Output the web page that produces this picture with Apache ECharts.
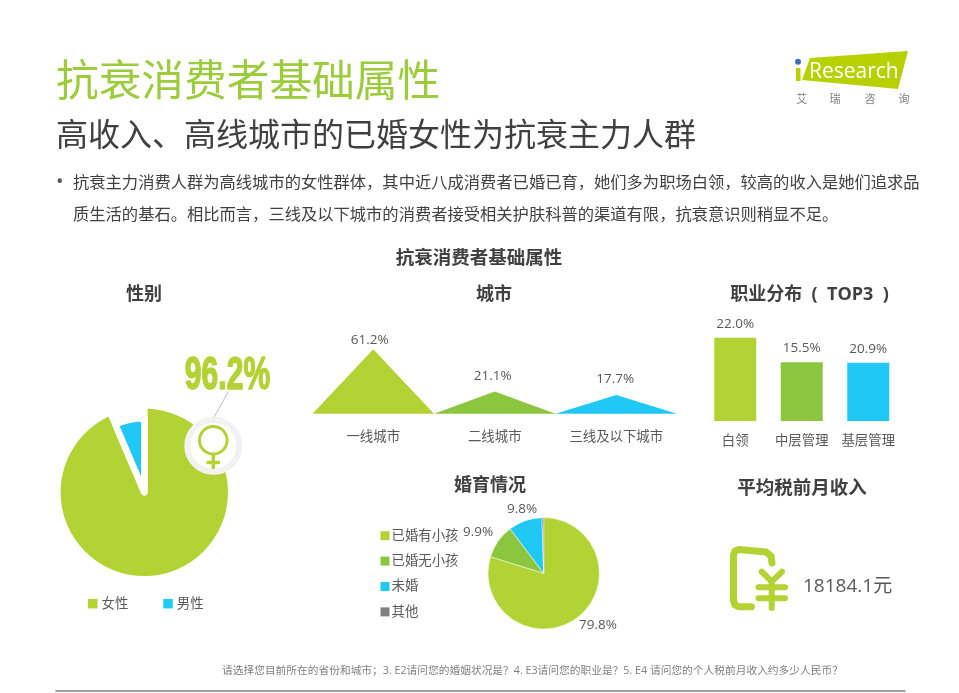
<!DOCTYPE html>
<html>
<head>
<meta charset="utf-8">
<title>抗衰消费者基础属性</title>
<script src="https://cdn.jsdelivr.net/npm/echarts@6/dist/echarts.min.js"></script>
<style>
html,body{margin:0;padding:0;background:#fff;}
#main{width:959px;height:693px;}
</style>
</head>
<body>
<div id="main"></div>
<script type="text/javascript">
var FONT = '"Open Sans","Noto Sans CJK SC",sans-serif';
var LIME = '#b3d234', GREEN = '#8cc63f', SKY = '#1fc8f5', GRAY = '#808080', TEXT = '#595959', DARK = '#404040';

var genderNames = ['女性', '男性'];
var genderDrawn = [93.6, 6.4];
var genderLabel = '96.2%';

var cityNames = ['一线城市', '二线城市', '三线及以下城市'];
var cityValues = [61.2, 21.1, 17.7];
var cityLabelNudge = [[-3.5, 1], [-2, -6], [-1, -6]];

// 职业: third bar is drawn at about the height of the second one in the reference, labelled 20.9%
var jobNames = ['白领', '中层管理', '基层管理'];
var jobDrawn = [22.0, 15.5, 15.4];
var jobLabels = ['22.0%', '15.5%', '20.9%'];

var marriageNames = ['已婚有小孩', '已婚无小孩', '未婚', '其他'];
var marriageValues = [79.8, 9.9, 9.8, 0.5];
var marriageLabelPos = [[598, 625], [478, 532], [522, 509], null];

var income = '18184.1元';

var bodyLines = [
    '抗衰主力消费人群为高线城市的女性群体，其中近八成消费者已婚已育，她们多为职场白领，较高的收入是她们追求品',
    '质生活的基石。相比而言，三线及以下城市的消费者接受相关护肤科普的渠道有限，抗衰意识则稍显不足。'
];
var footNote = '请选择您目前所在的省份和城市；3. E2请问您的婚姻状况是？4. E3请问您的职业是？5. E4 请问您的个人税前月收入约多少人民币？';

function txt(x, y, text, size, color, opt) {
    opt = opt || {};
    return {
        type: 'text', silent: true, x: x, y: y,
        scaleX: opt.scaleX || 1,
        style: {
            text: text, fontSize: size, fill: color,
            fontFamily: opt.family || FONT,
            fontWeight: opt.weight || 'normal',
            align: opt.align || 'left', verticalAlign: 'middle',
            stroke: opt.stroke, lineWidth: opt.lineWidth
        }
    };
}
function heading(x, y, text, size) {
    return txt(x, y, text, size || 18, DARK, {weight: 'bold', align: 'center'});
}
function line(x1, y1, x2, y2, color, w) {
    return {type: 'line', silent: true, shape: {x1: x1, y1: y1, x2: x2, y2: y2},
        style: {stroke: color, lineWidth: w, lineCap: 'round'}};
}
function poly(points, color, w) {
    return {type: 'polyline', silent: true, shape: {points: points},
        style: {stroke: color, lineWidth: w, lineCap: 'round', lineJoin: 'round', fill: 'none'}};
}

var graphics = [
    txt(56, 84, '抗衰消费者基础属性', 42.7, '#9ccb3b'),
    txt(56, 137, '高收入、高线城市的已婚女性为抗衰主力人群', 32, DARK),
    txt(56, 182, '•', 20, TEXT),
    txt(73, 183, bodyLines[0], 16.3, DARK),
    txt(73, 215, bodyLines[1], 16.3, DARK),
    heading(479, 259, '抗衰消费者基础属性', 18.5),
    heading(144, 295, '性别'),
    heading(494, 295, '城市'),
    heading(809.5, 295, '职业分布  (  TOP3  )'),
    heading(490, 485.5, '婚育情况'),
    heading(802, 489, '平均税前月收入', 18.5),

    // 96.2% callout
    txt(227.5, 376, genderLabel, 47, LIME, {family: '"Liberation Sans Narrow","Liberation Sans"', weight: 'bold', align: 'center', scaleX: 0.64, stroke: LIME, lineWidth: 1.6}),
    line(228.3, 391.7, 214.3, 416.7, '#bdbdbd', 1),
    {type: 'circle', silent: true, z: 10, shape: {cx: 213.3, cy: 445.7, r: 26}, style: {fill: '#fff', stroke: '#f2f2f2', lineWidth: 6}},
    {type: 'circle', silent: true, z: 11, shape: {cx: 213.3, cy: 440.3, r: 13.8}, style: {fill: 'none', stroke: LIME, lineWidth: 3}},
    {type: 'line', silent: true, z: 11, shape: {x1: 213.3, y1: 454, x2: 213.3, y2: 469}, style: {stroke: LIME, lineWidth: 3.4}},
    {type: 'line', silent: true, z: 11, shape: {x1: 206.5, y1: 462.5, x2: 220, y2: 462.5}, style: {stroke: LIME, lineWidth: 3.4}},

    // wallet with yen sign
    poly([[772, 563], [771, 556], [766, 552], [739, 549.5], [735, 551], [733.5, 555], [733.5, 601], [735, 605], [739, 606.7], [751.5, 606.7]], LIME, 7),
    poly([[761.7, 571.7], [771.7, 581.7], [782, 571.7]], LIME, 6),
    line(771.7, 581.7, 771.7, 608, LIME, 6),
    line(758.5, 587.3, 785, 587.3, LIME, 6),
    line(758.5, 598.3, 785, 598.3, LIME, 6),
    txt(803, 587, income, 19, TEXT),

    // iResearch logo
    {type: 'polygon', silent: true, shape: {points: [[810, 58], [908, 51], [898, 89], [802, 80]]}, style: {fill: '#b7d100'}},
    {type: 'circle', silent: true, shape: {cx: 798, cy: 61.7, r: 3}, style: {fill: '#3f6fb5'}},
    {type: 'rect', silent: true, shape: {x: 796, y: 68, width: 4.5, height: 13}, style: {fill: '#b7d100'}},
    txt(809, 72, 'Research', 21, '#fff', {family: '"Open Sans",sans-serif'}),
    txt(801.7, 100, '艾', 11, '#808080', {align: 'center'}),
    txt(835, 100, '瑞', 11, '#808080', {align: 'center'}),
    txt(870, 100, '咨', 11, '#808080', {align: 'center'}),
    txt(904, 100, '询', 11, '#808080', {align: 'center'}),

    txt(222, 671, footNote, 10.73, '#7f7f7f'),
    line(56, 691, 905, 691, '#808080', 1.5)
];

var option = {
    animation: false,
    backgroundColor: '#fff',
    textStyle: {fontFamily: FONT},
    graphic: {elements: graphics},
    legend: [{
        left: 88, top: 597, padding: 0, itemWidth: 9.5, itemHeight: 9.5, itemGap: 35, icon: 'rect',
        selectedMode: false,
        textStyle: {color: TEXT, fontSize: 13.4, fontFamily: FONT, padding: [0, 0, 0, -1]},
        data: [
            {name: genderNames[0], itemStyle: {color: LIME, borderWidth: 0}},
            {name: genderNames[1], itemStyle: {color: SKY, borderWidth: 0}}
        ]
    }, {
        left: 380.5, top: 529, padding: 0, orient: 'vertical', itemWidth: 9, itemHeight: 9, itemGap: 12, icon: 'rect',
        selectedMode: false,
        textStyle: {color: TEXT, fontSize: 13.4, fontFamily: FONT, padding: [0, 0, 0, -3]},
        data: marriageNames.map(function (n, i) {
            return {name: n, itemStyle: {color: [LIME, GREEN, SKY, GRAY][i], borderWidth: 0}};
        })
    }],
    grid: [
        {left: 312.5, top: 308.5, width: 364.5, height: 105.2},
        {left: 702, top: 296, width: 199.5, height: 125}
    ],
    xAxis: [
        {gridIndex: 0, type: 'category', data: cityNames, axisLine: {show: false}, axisTick: {show: false},
            axisLabel: {color: TEXT, fontSize: 13.4, margin: 17, interval: 0}},
        {gridIndex: 1, type: 'category', data: jobNames, axisLine: {show: false}, axisTick: {show: false},
            axisLabel: {color: TEXT, fontSize: 13.4, margin: 13.5, interval: 0}}
    ],
    yAxis: [
        {gridIndex: 0, type: 'value', min: 0, max: 100, show: false},
        {gridIndex: 1, type: 'value', min: 0, max: 33, show: false}
    ],
    series: [{
        type: 'pie', silent: true, center: [144.3, 492.3], radius: [0, 83.7], startAngle: 90, clockwise: true,
        label: {show: false}, labelLine: {show: false},
        data: [
            {name: genderNames[0], value: genderDrawn[0], itemStyle: {color: LIME, borderWidth: 0}},
            {name: genderNames[1], value: genderDrawn[1], itemStyle: {color: '#fff', borderColor: '#fff', borderWidth: 6.6, borderJoin: 'round'}}
        ]
    }, {
        type: 'pie', silent: true, center: [144.3, 492.3], radius: [0, 74], startAngle: 90, clockwise: true,
        label: {show: false}, labelLine: {show: false},
        data: [
            {name: genderNames[0], value: genderDrawn[0], itemStyle: {color: 'rgba(0,0,0,0)', borderWidth: 0}},
            {name: genderNames[1], value: genderDrawn[1], itemStyle: {color: SKY, borderColor: '#fff', borderWidth: 6.6, borderJoin: 'round'}}
        ]
    }, {
        type: 'pictorialBar', xAxisIndex: 0, yAxisIndex: 0, silent: true, symbol: 'triangle',
        barWidth: '100%', barCategoryGap: 0, symbolSize: ['100%', '100%'], z: 3,
        label: {show: true, position: 'top', distance: 3, color: TEXT, fontSize: 13.5, formatter: function (p) { return p.value.toFixed(1) + '%'; }},
        data: cityValues.map(function (v, i) {
            return {value: v, itemStyle: {color: [LIME, GREEN, SKY][i]}, label: {offset: cityLabelNudge[i]}};
        })
    }, {
        type: 'bar', xAxisIndex: 1, yAxisIndex: 1, silent: true, barWidth: 42,
        label: {show: true, position: 'top', distance: 7, color: TEXT, fontSize: 13.5, formatter: function (p) { return jobLabels[p.dataIndex]; }},
        data: jobDrawn.map(function (v, i) {
            return {value: v, itemStyle: {color: [LIME, GREEN, SKY][i]}};
        })
    }, {
        type: 'pie', silent: true, center: [543.7, 573.3], radius: [0, 55.7], startAngle: 90, clockwise: true,
        itemStyle: {borderColor: '#fff', borderWidth: 0.5},
        label: {show: true, position: 'outside', color: TEXT, fontSize: 13.5, formatter: function (p) {
            return p.dataIndex === 3 ? '' : p.value.toFixed(1) + '%';
        }},
        labelLine: {show: false},
        labelLayout: function (p) {
            var pos = marriageLabelPos[p.dataIndex];
            return pos ? {x: pos[0], y: pos[1], align: 'center', verticalAlign: 'middle'} : {};
        },
        data: marriageValues.map(function (v, i) {
            return {name: marriageNames[i], value: v, itemStyle: {color: [LIME, GREEN, SKY, GRAY][i]}};
        })
    }]
};

var chart = echarts.init(document.getElementById('main'));
chart.setOption(option);
</script>
</body>
</html>
